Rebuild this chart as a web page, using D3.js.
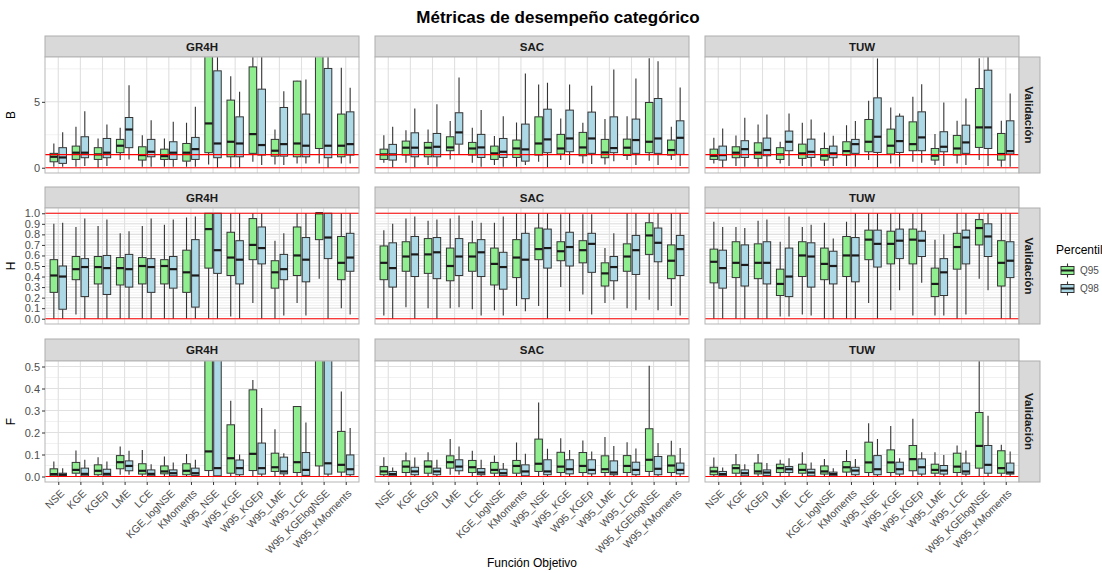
<!DOCTYPE html>
<html><head><meta charset="utf-8">
<script src="https://cdn.jsdelivr.net/npm/d3@7"></script>
<style>
body{margin:0;background:#fff;}
svg{font-family:"Liberation Sans",Arial,sans-serif;}
</style>
</head><body>
<svg id="chart" width="1102" height="573"></svg>
<script>
// ---- data: each entry is [lower whisker, Q1, median, Q3, upper whisker] ----
const categories = ["NSE","KGE","KGEp","LME","LCE","KGE_logNSE","KMoments","W95_NSE","W95_KGE","W95_KGEp","W95_LME","W95_LCE","W95_KGElogNSE","W95_KMoments"];
const models = ["GR4H","SAC","TUW"];
const metrics = ["B","H","F"];
const percentiles = ["Q95","Q98"];
const percentileColors = ["#90EE90","#ADD8E6"];

const gr4h_B_q95 = [[0.08,0.45,0.83,1.09,1.84],[0.08,0.63,1.14,1.64,3.1],[0,0.63,1.01,1.52,2.22],[0.58,1.14,1.67,2.15,3.03],[0.08,0.58,0.96,1.59,2.47],[0.08,0.63,0.88,1.41,2.22],[0.08,0.5,1.14,1.84,3.41],[0.25,1.14,3.36,10,20],[0,0.83,1.97,5.13,6.94],[0.45,1.09,2.55,7.65,9.5],[0.25,0.88,1.29,2.15,2.9],[0.33,0.83,1.84,6.57,6.6],[0.33,1.46,8.8,12,20],[0.33,0.83,1.67,4.07,7.58]];
const gr4h_B_q98 = [[0.08,0.33,0.78,1.52,2.7],[0.13,0.76,1.14,2.35,4.29],[0.13,0.76,1.14,2.22,3.28],[0.63,1.52,2.9,3.81,6.26],[0.08,0.83,1.21,2.15,3.61],[0.08,0.63,1.14,1.97,3.48],[0.08,0.63,1.41,2.3,4.62],[0,0.76,1.84,7.35,12],[0,0.83,1.84,3.86,5.76],[0.2,0.96,1.72,5.96,9],[0.2,0.88,1.79,4.57,5.81],[0.33,0.83,1.67,4.07,6.69],[0,0.76,1.67,7.53,10],[0.33,0.96,1.79,4.24,6.06]];
const sac_B_q95 = [[0.38,0.63,1.01,1.41,2.47],[0.38,0.96,1.52,2.02,2.85],[0.2,0.83,1.52,1.92,2.9],[0.63,1.29,1.54,2.35,3.54],[0.38,0.96,1.46,1.92,3.03],[0.2,0.63,1.09,1.64,2.4],[0.08,0.78,1.46,2.1,3.43],[0.45,0.96,1.84,3.86,6.31],[0.58,1.04,1.46,2.53,3.74],[0.33,0.91,1.54,2.68,3.41],[0.25,0.76,1.16,2.15,3.69],[0.58,0.93,1.52,2.17,3.91],[0.53,1.14,1.97,4.95,8.3],[0.58,0.96,1.34,2.1,3.1]];
const sac_B_q98 = [[0.03,0.58,1.01,1.77,3.1],[0.03,0.83,1.52,2.65,4.49],[0.08,0.83,1.59,2.6,4.82],[0.96,1.79,2.68,4.17,6.84],[0.08,0.78,1.54,2.53,4.37],[0.08,0.78,1.21,2.22,3.91],[0.2,0.5,1.39,3.31,7.15],[0.03,1.14,2.15,4.44,6.44],[0.2,1.21,2.22,4.37,6.31],[0.28,1.09,2.22,4.22,6.21],[0.5,1.14,1.49,3.86,7.45],[0.2,1.09,2.1,3.69,6.77],[0.2,1.09,2.22,5.25,8.08],[0.13,1.01,2.27,3.56,6.09]];
const tuw_B_q95 = [[0.33,0.63,0.91,1.41,2.27],[0.13,0.76,1.14,1.59,2.45],[0.08,0.71,1.14,1.89,3.28],[0.33,0.63,1.01,1.52,1.97],[0.13,0.71,1.09,1.79,3.41],[0.13,0.58,0.91,1.46,2.68],[0.13,0.96,1.26,1.97,3.23],[0.58,1.21,1.97,3.66,5.08],[0.33,1.04,1.67,2.93,4.57],[0.45,1.29,1.79,3.48,5.38],[0.2,0.58,0.91,1.46,2.55],[0.33,0.96,1.46,2.45,3.56],[0.58,1.54,3.06,6.01,8.3],[0.08,0.58,1.04,2.6,3.56]];
const tuw_B_q98 = [[0.03,0.58,0.96,1.64,2.98],[0.08,0.78,1.41,2.05,3.79],[0.08,0.91,1.34,2.25,4.04],[0.13,1.29,1.97,2.78,4.12],[0.08,0.78,1.21,2.17,3.66],[0.13,0.76,1.09,1.64,2.42],[0.08,1.09,1.79,2.15,3.54],[0.03,1.16,2.35,5.3,8.28],[0.08,1.16,2.02,3.91,4.12],[0.38,1.29,2.3,4.24,6.34],[0.13,1.21,1.59,2.73,4.95],[0.2,1.09,1.92,3.23,5.25],[0.13,1.46,3.06,7.4,9],[0.08,1.04,1.26,3.56,5.63]];

const gr4h_H_q95 = [[0,0.25,0.41,0.56,0.9],[0.04,0.37,0.47,0.59,0.87],[0,0.33,0.49,0.59,0.88],[0,0.32,0.48,0.58,0.81],[0,0.33,0.5,0.58,0.88],[0,0.33,0.5,0.56,0.89],[0,0.25,0.44,0.65,0.96],[0,0.48,0.85,1,1],[0.02,0.41,0.58,0.82,1],[0.15,0.56,0.7,0.95,1],[0,0.29,0.44,0.55,0.74],[0.15,0.41,0.6,0.87,1],[0.38,0.75,1,1,1],[0.1,0.37,0.53,0.78,1]];
const gr4h_H_q98 = [[0,0.09,0.4,0.5,0.91],[0,0.21,0.49,0.57,0.95],[0,0.23,0.48,0.6,0.94],[0,0.3,0.47,0.61,0.83],[0,0.25,0.49,0.57,0.95],[0,0.29,0.47,0.59,0.94],[0,0.11,0.41,0.75,0.97],[0,0.43,0.65,1,1],[0,0.33,0.56,0.74,1],[0,0.52,0.67,0.87,1],[0.03,0.37,0.47,0.61,0.81],[0.03,0.35,0.56,0.77,1],[0,0.57,0.77,1,1],[0.04,0.45,0.58,0.81,1]];
const sac_H_q95 = [[0.03,0.37,0.53,0.69,0.84],[0.11,0.45,0.59,0.73,0.95],[0.1,0.43,0.61,0.76,0.93],[0.1,0.36,0.5,0.67,0.95],[0.09,0.45,0.59,0.72,0.93],[0.08,0.32,0.52,0.67,0.91],[0.12,0.39,0.58,0.75,1],[0.12,0.56,0.66,0.86,1],[0.3,0.55,0.64,0.73,0.99],[0.23,0.53,0.65,0.74,0.99],[0.15,0.31,0.43,0.53,0.67],[0.1,0.45,0.59,0.71,1],[0.18,0.61,0.79,0.91,1],[0.12,0.38,0.55,0.7,1]];
const sac_H_q98 = [[0,0.3,0.48,0.72,0.9],[0,0.4,0.61,0.78,0.97],[0,0.38,0.63,0.77,0.94],[0.11,0.41,0.59,0.76,0.98],[0.03,0.4,0.63,0.75,0.91],[0.03,0.28,0.49,0.63,0.97],[0.07,0.19,0.56,0.81,1],[0,0.48,0.67,0.85,1],[0.07,0.5,0.68,0.82,1],[0.04,0.44,0.71,0.81,0.99],[0.18,0.36,0.49,0.59,0.81],[0.08,0.42,0.65,0.79,1],[0.08,0.54,0.72,0.86,1],[0.03,0.41,0.66,0.79,1]];
const tuw_H_q95 = [[0,0.34,0.54,0.66,0.92],[0,0.39,0.53,0.73,0.87],[0,0.38,0.53,0.71,0.93],[0.02,0.22,0.33,0.47,0.73],[0.04,0.4,0.6,0.73,0.87],[0,0.37,0.52,0.67,0.91],[0,0.4,0.6,0.78,0.92],[0.15,0.56,0.75,0.84,1],[0.08,0.52,0.71,0.83,1],[0.03,0.52,0.75,0.85,1],[0.03,0.21,0.33,0.48,0.75],[0,0.47,0.68,0.81,1],[0.38,0.7,0.86,0.94,1],[0,0.31,0.53,0.74,1]];
const tuw_H_q98 = [[0,0.29,0.48,0.65,0.87],[0,0.31,0.51,0.7,0.86],[0,0.33,0.53,0.73,0.94],[0.02,0.21,0.4,0.67,0.97],[0.03,0.3,0.59,0.72,0.89],[0,0.33,0.5,0.64,0.76],[0,0.35,0.6,0.77,1],[0,0.49,0.71,0.84,1],[0.27,0.57,0.74,0.85,1],[0.34,0.59,0.74,0.83,1],[0.03,0.22,0.44,0.57,0.8],[0.04,0.52,0.77,0.84,1],[0.27,0.59,0.78,0.9,1],[0,0.39,0.55,0.73,1]];

const gr4h_F_q95 = [[0,0.003,0.011,0.035,0.068],[0,0.015,0.03,0.064,0.118],[0,0.008,0.026,0.053,0.088],[0.008,0.035,0.065,0.095,0.136],[0,0.011,0.026,0.058,0.121],[0,0.012,0.023,0.048,0.091],[0,0.008,0.026,0.058,0.102],[0,0.027,0.114,0.8,1.5],[0,0.015,0.083,0.235,0.344],[0,0.027,0.103,0.394,0.439],[0,0.023,0.042,0.106,0.215],[0,0.018,0.065,0.318,0.32],[0,0.048,0.6,1,2],[0,0.02,0.053,0.205,0.386]];
const gr4h_F_q98 = [[0,0.003,0.008,0.015,0.038],[0,0.003,0.012,0.038,0.076],[0,0.003,0.012,0.033,0.068],[0.008,0.026,0.048,0.071,0.117],[0,0.003,0.012,0.03,0.056],[0,0.003,0.015,0.03,0.064],[0,0.005,0.015,0.038,0.076],[0,0.003,0.038,0.7,1.5],[0,0.008,0.038,0.075,0.1],[0,0.011,0.038,0.152,0.311],[0,0.012,0.023,0.088,0.106],[0,0.005,0.03,0.109,0.245],[0,0.011,0.06,0.9,1.5],[0,0.008,0.033,0.098,0.22]];
const sac_F_q95 = [[0,0.008,0.023,0.045,0.088],[0,0.018,0.045,0.071,0.109],[0,0.015,0.045,0.071,0.11],[0.008,0.038,0.065,0.094,0.171],[0,0.018,0.042,0.073,0.117],[0,0.015,0.03,0.064,0.095],[0,0.015,0.048,0.073,0.155],[0,0.023,0.058,0.17,0.336],[0,0.018,0.045,0.11,0.174],[0,0.018,0.048,0.109,0.164],[0,0.018,0.033,0.094,0.179],[0,0.018,0.048,0.095,0.156],[0,0.023,0.076,0.217,0.503],[0,0.018,0.05,0.094,0.162]];
const sac_F_q98 = [[0,0.003,0.011,0.023,0.041],[0,0.008,0.023,0.042,0.086],[0,0.008,0.023,0.038,0.076],[0.008,0.026,0.045,0.076,0.136],[0,0.008,0.018,0.036,0.076],[0,0.003,0.015,0.033,0.061],[0,0.003,0.023,0.053,0.103],[0,0.008,0.023,0.076,0.126],[0,0.012,0.033,0.076,0.121],[0,0.012,0.03,0.076,0.114],[0,0.008,0.018,0.071,0.139],[0,0.008,0.03,0.065,0.127],[0,0.008,0.035,0.091,0.152],[0,0.012,0.03,0.061,0.129]];
const tuw_F_q95 = [[0,0.008,0.023,0.042,0.086],[0,0.015,0.038,0.053,0.102],[0,0.012,0.023,0.061,0.102],[0,0.018,0.038,0.056,0.076],[0,0.015,0.03,0.056,0.11],[0,0.011,0.023,0.048,0.079],[0,0.02,0.042,0.068,0.121],[0,0.018,0.064,0.156,0.242],[0,0.018,0.064,0.121,0.23],[0,0.026,0.079,0.141,0.262],[0,0.015,0.03,0.056,0.11],[0,0.018,0.045,0.106,0.141],[0,0.038,0.139,0.291,0.527],[0,0.015,0.038,0.117,0.144]];
const tuw_F_q98 = [[0,0.003,0.011,0.023,0.041],[0,0.003,0.015,0.03,0.056],[0,0.005,0.018,0.03,0.061],[0,0.018,0.033,0.045,0.083],[0,0.003,0.018,0.033,0.064],[0,0.003,0.011,0.02,0.038],[0,0.008,0.027,0.042,0.079],[0,0.008,0.033,0.095,0.171],[0,0.011,0.033,0.065,0.083],[0,0.011,0.042,0.08,0.11],[0,0.011,0.027,0.05,0.098],[0,0.011,0.023,0.061,0.118],[0,0.015,0.053,0.141,0.276],[0,0.011,0.018,0.061,0.114]];

// y-axis settings per metric
const yTicksB = [0, 5];
const yTicksH = [0,0.1,0.2,0.3,0.4,0.5,0.6,0.7,0.8,0.9,1.0];
const yTicksF = [0,0.1,0.2,0.3,0.4,0.5];
const refLinesB = [0, 1];
const refLinesH = [0, 1];
const refLinesF = [0];

const boxData = {
  GR4H: { B: [gr4h_B_q95, gr4h_B_q98], H: [gr4h_H_q95, gr4h_H_q98], F: [gr4h_F_q95, gr4h_F_q98] },
  SAC:  { B: [sac_B_q95,  sac_B_q98],  H: [sac_H_q95,  sac_H_q98],  F: [sac_F_q95,  sac_F_q98] },
  TUW:  { B: [tuw_B_q95,  tuw_B_q98],  H: [tuw_H_q95,  tuw_H_q98],  F: [tuw_F_q95,  tuw_F_q98] }
};

const metricAxes = {
  B: { domain: [-0.4, 8.4], ticks: yTicksB, fmt: d3.format("d"), minor: [2.5, 7.5], refs: refLinesB },
  H: { domain: [-0.05, 1.05], ticks: yTicksH, fmt: d3.format(".1f"), minor: d3.range(0, 1.001, 0.025), refs: refLinesH },
  F: { domain: [-0.025, 0.525], ticks: yTicksF, fmt: d3.format(".1f"), minor: d3.range(0.05, 0.5, 0.1), refs: refLinesF }
};

// ---- layout ----
const colX = [45, 375, 705];
const colW = 314;
const rows = [
  { stripTop: 36, top: 57, bottom: 173 },
  { stripTop: 187, top: 208, bottom: 324 },
  { stripTop: 339, top: 361, bottom: 482 }
];
const gridCol = "#e8e8e8";
const inkCol = "#333333";

const svg = d3.select("#chart");
const defs = svg.append("defs");

svg.append("text")
  .attr("x", 558).attr("y", 23)
  .attr("text-anchor", "middle")
  .attr("font-size", 17).attr("font-weight", "bold").attr("fill", "#000")
  .text("Métricas de desempeño categórico");

metrics.forEach((metric, ri) => {
  const R = rows[ri];
  const ax = metricAxes[metric];
  const y = d3.scaleLinear().domain(ax.domain).range([R.bottom, R.top]);

  models.forEach((model, ci) => {
    const x0 = colX[ci];
    const x = d3.scalePoint().domain(categories).range([x0, x0 + colW]).padding(0.6);
    const step = x.step();
    const g = svg.append("g");
    const clipId = `clip-${ri}-${ci}`;
    defs.append("clipPath").attr("id", clipId)
      .append("rect").attr("x", x0).attr("y", R.top).attr("width", colW).attr("height", R.bottom - R.top);

    // strip
    g.append("rect").attr("x", x0).attr("y", R.stripTop).attr("width", colW).attr("height", R.top - R.stripTop)
      .attr("fill", "#d9d9d9").attr("stroke", "#adadad").attr("stroke-width", 1);
    g.append("text").attr("x", x0 + colW / 2).attr("y", (R.stripTop + R.top) / 2)
      .attr("dy", "0.36em").attr("text-anchor", "middle")
      .attr("font-size", 11.5).attr("font-weight", "bold").attr("fill", "#1a1a1a").text(model);

    // panel background + grid
    g.append("rect").attr("x", x0).attr("y", R.top).attr("width", colW).attr("height", R.bottom - R.top).attr("fill", "#fff");
    const grid = g.append("g").attr("clip-path", `url(#${clipId})`);
    grid.selectAll(".minor").data(ax.minor).join("line")
      .attr("x1", x0).attr("x2", x0 + colW)
      .attr("y1", d => y(d)).attr("y2", d => y(d))
      .attr("stroke", gridCol).attr("stroke-width", 0.6);
    grid.selectAll(".major").data(ax.ticks).join("line")
      .attr("x1", x0).attr("x2", x0 + colW)
      .attr("y1", d => y(d)).attr("y2", d => y(d))
      .attr("stroke", "#e0e0e0").attr("stroke-width", 1.1);
    grid.selectAll(".vgrid").data(categories).join("line")
      .attr("x1", d => x(d)).attr("x2", d => x(d))
      .attr("y1", R.top).attr("y2", R.bottom)
      .attr("stroke", "#e0e0e0").attr("stroke-width", 1.1);

    // boxplots
    const marks = g.append("g").attr("clip-path", `url(#${clipId})`);
    percentiles.forEach((p, si) => {
      const vals = boxData[model][metric][si];
      const off = (si === 0 ? -0.2 : 0.2) * step;
      const bw = 0.34 * step;
      const grp = marks.append("g");
      const items = vals.map((v, i) => ({ cat: categories[i], v }));
      grp.selectAll(".whisk").data(items).join("path")
        .attr("d", d => {
          const cx = x(d.cat) + off;
          return `M${cx},${y(d.v[0])}V${y(d.v[1])}M${cx},${y(d.v[3])}V${y(d.v[4])}`;
        })
        .attr("stroke", inkCol).attr("stroke-width", 1.1).attr("fill", "none");
      grp.selectAll(".box").data(items).join("rect")
        .attr("x", d => x(d.cat) + off - bw / 2)
        .attr("y", d => y(d.v[3]))
        .attr("width", bw)
        .attr("height", d => y(d.v[1]) - y(d.v[3]))
        .attr("fill", percentileColors[si]).attr("stroke", inkCol).attr("stroke-width", 1);
      grp.selectAll(".med").data(items).join("line")
        .attr("x1", d => x(d.cat) + off - bw / 2).attr("x2", d => x(d.cat) + off + bw / 2)
        .attr("y1", d => y(d.v[2])).attr("y2", d => y(d.v[2]))
        .attr("stroke", "#1a1a1a").attr("stroke-width", 2.2);
    });

    // reference lines
    marks.selectAll(".ref").data(ax.refs).join("line")
      .attr("x1", x0).attr("x2", x0 + colW)
      .attr("y1", d => y(d)).attr("y2", d => y(d))
      .attr("stroke", "#ff0000").attr("stroke-width", 1.2);

    // panel border
    g.append("rect").attr("x", x0).attr("y", R.top).attr("width", colW).attr("height", R.bottom - R.top)
      .attr("fill", "none").attr("stroke", "#b5b5b5").attr("stroke-width", 1);

    // y axis on the first column
    if (ci === 0) {
      const yAxis = d3.axisLeft(y).tickValues(ax.ticks).tickFormat(ax.fmt).tickSizeInner(3).tickSizeOuter(0).tickPadding(2);
      const ya = svg.append("g").attr("transform", `translate(${x0},0)`).call(yAxis);
      ya.select(".domain").remove();
      ya.selectAll("line").attr("stroke", inkCol);
      ya.selectAll("text").attr("font-size", 11).attr("fill", "#4d4d4d")
        .attr("font-family", '"Liberation Sans",Arial,sans-serif');
    }

    // x axis on the bottom row
    const xAxis = d3.axisBottom(x).tickSizeInner(3).tickSizeOuter(0).tickFormat(d => (ri === 2 ? d : ""));
    const xa = svg.append("g").attr("transform", `translate(0,${R.bottom})`).call(xAxis);
    xa.select(".domain").remove();
    xa.selectAll("line").attr("stroke", inkCol);
    xa.selectAll("text")
      .attr("font-size", 10.5).attr("fill", "#4d4d4d")
      .attr("font-family", '"Liberation Sans",Arial,sans-serif')
      .attr("text-anchor", "end")
      .attr("transform", "translate(-2,4) rotate(-45)")
      .attr("y", 4).attr("dy", "0.71em").attr("x", 0);
    if (ri !== 2) xa.selectAll("line").remove();
  });

  // right strip
  svg.append("rect").attr("x", 1019).attr("y", R.top).attr("width", 21).attr("height", R.bottom - R.top)
    .attr("fill", "#d9d9d9").attr("stroke", "#adadad").attr("stroke-width", 1);
  svg.append("text")
    .attr("transform", `translate(${1029.5},${(R.top + R.bottom) / 2}) rotate(90)`)
    .attr("dy", "0.36em").attr("text-anchor", "middle")
    .attr("font-size", 11.5).attr("font-weight", "bold").attr("fill", "#1a1a1a").text("Validación");

  // y title
  svg.append("text")
    .attr("transform", `translate(${15},${(R.top + R.bottom) / 2}) rotate(-90)`)
    .attr("text-anchor", "middle").attr("font-size", 12).attr("fill", "#000").text(metric);
});

// x title
svg.append("text").attr("x", 532).attr("y", 567).attr("text-anchor", "middle")
  .attr("font-size", 12).attr("fill", "#000").text("Función Objetivo");

// legend
const lg = svg.append("g").attr("transform", "translate(1056,0)");
lg.append("text").attr("x", 0).attr("y", 254).attr("font-size", 12).attr("fill", "#000").text("Percentil");
percentiles.forEach((p, i) => {
  const ky = 262 + i * 18;
  const k = lg.append("g").attr("transform", `translate(3,${ky})`);
  k.append("line").attr("x1", 8.5).attr("x2", 8.5).attr("y1", 1.5).attr("y2", 15.5).attr("stroke", inkCol).attr("stroke-width", 1.1);
  k.append("rect").attr("x", 2).attr("y", 4.5).attr("width", 13).attr("height", 8)
    .attr("fill", percentileColors[i]).attr("stroke", inkCol).attr("stroke-width", 1);
  k.append("line").attr("x1", 2).attr("x2", 15).attr("y1", 8.5).attr("y2", 8.5).attr("stroke", "#1a1a1a").attr("stroke-width", 2);
  lg.append("text").attr("x", 24).attr("y", ky + 8.5).attr("dy", "0.35em").attr("font-size", 10).attr("fill", "#4d4d4d").text(p);
});
</script>
</body></html>
